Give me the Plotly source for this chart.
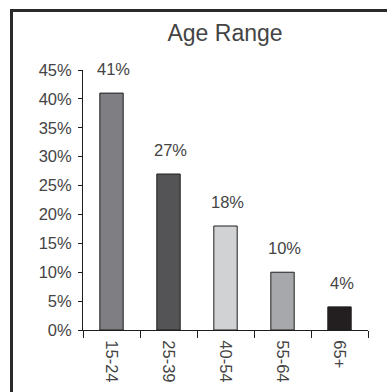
import plotly.graph_objects as go

# Age distribution data
age_groups = ["15-24", "25-39", "40-54", "55-64", "65+"]
shares = [41, 27, 18, 10, 4]
bar_colors = ["#7f7f83", "#545456", "#d1d2d4", "#a7a8ab", "#231f20"]
y_ticks = [0, 5, 10, 15, 20, 25, 30, 35, 40, 45]
y_tick_text = [f"{v}%" for v in y_ticks]

W, H = 387, 392
ML, MR, MT, MB = 83, 19, 70, 62
TEXT = "#444444"
FONT = "Liberation Sans, Arial, sans-serif"
FS = 16.5

fig = go.Figure()
fig.add_trace(go.Bar(
    x=age_groups,
    y=shares,
    width=0.41,
    marker=dict(color=bar_colors, line=dict(color="#1e1e1e", width=1)),
    hoverinfo="skip",
))

# value labels above each bar
for cat, val in zip(age_groups, shares):
    fig.add_annotation(
        x=cat, y=val, text=f"{val}%", showarrow=False,
        yanchor="middle", xanchor="center", yshift=24, xshift=2,
        font=dict(size=FS, color=TEXT, family=FONT, weight=300),
    )

# frame lines along the top and left edge of the figure
pw, ph = W - ML - MR, H - MT - MB
def px_x(p):
    return (p - ML) / pw
def px_y(p):
    return (H - MB - p) / ph

frame = dict(color="#2a2a2a", width=3)
fig.add_shape(type="line", xref="paper", yref="paper",
              x0=px_x(11.5), x1=px_x(11.5), y0=px_y(10), y1=px_y(400), line=frame)
fig.add_shape(type="line", xref="paper", yref="paper",
              x0=px_x(10), x1=px_x(400), y0=px_y(10.5), y1=px_y(10.5), line=frame)

fig.update_layout(
    width=W, height=H,
    margin=dict(l=ML, r=MR, t=MT, b=MB, autoexpand=False),
    paper_bgcolor="white", plot_bgcolor="white",
    showlegend=False,
    font=dict(family=FONT, color=TEXT, size=FS),
    title=dict(text="Age Range", x=px_x(225), xref="paper", xanchor="center",
               y=1 - 33 / H, yref="container", yanchor="middle",
               font=dict(size=23, color=TEXT, family=FONT)),
)
fig.update_xaxes(
    type="category", tickson="boundaries", ticks="outside", ticklen=7,
    tickcolor="#1e1e1e", tickangle=90, showline=True, linecolor="#1e1e1e",
    linewidth=1, showgrid=False, tickfont=dict(size=FS, color=TEXT),
    ticklabelstandoff=6, range=[-0.5, 4.5], automargin=False,
)
fig.update_yaxes(
    range=[0, 45], tickvals=y_ticks, ticktext=y_tick_text, ticks="outside",
    ticklen=4, tickcolor="#1e1e1e", showline=True, linecolor="#1e1e1e",
    linewidth=1, showgrid=False, zeroline=False, automargin=False,
    tickfont=dict(size=FS, color=TEXT), ticklabelstandoff=3,
)

fig.write_html("out.html")
